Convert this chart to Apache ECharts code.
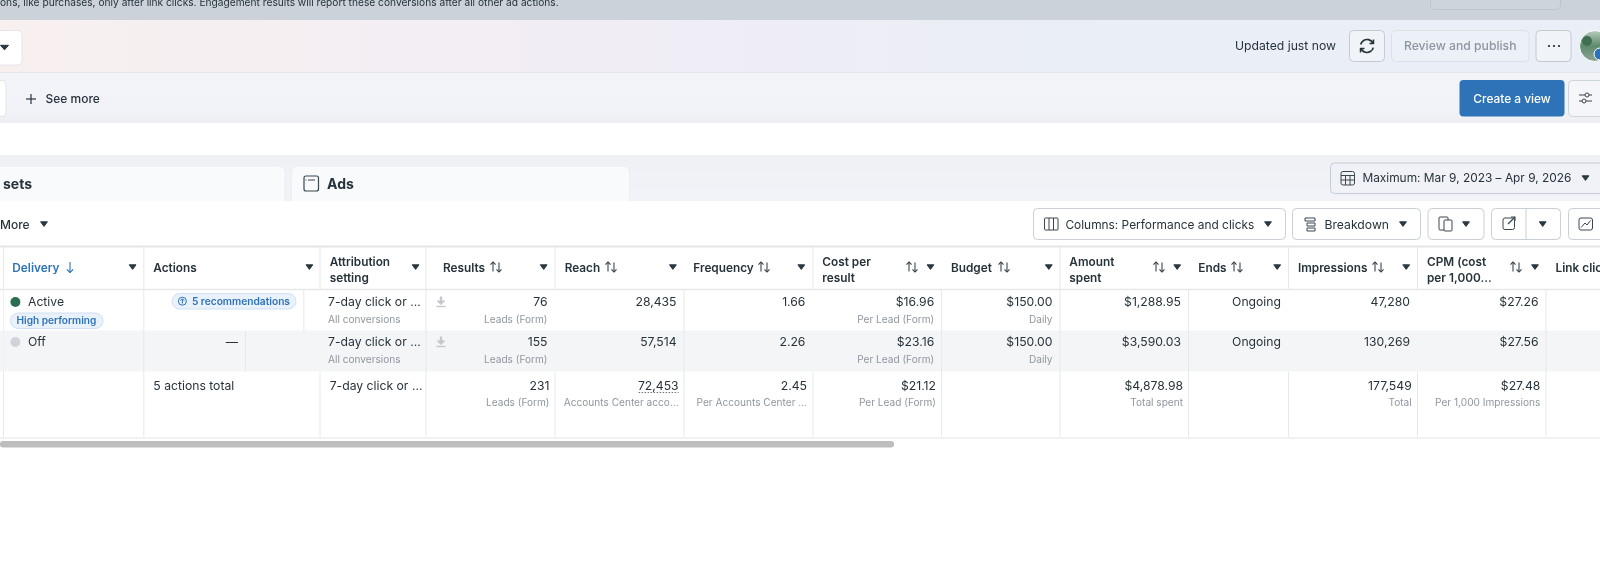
<!DOCTYPE html>
<html><head><meta charset="utf-8">
<style>html,body{margin:0;padding:0;background:#fff}#c{width:1600px;height:571px;filter:blur(.35px)}</style>
<script src="https://cdn.jsdelivr.net/npm/echarts@6/dist/echarts.min.js"></script>
</head><body><div id="c"></div>
<script>
// ---- data ----
const headers = [
  ['Delivery'], ['Actions'], ['Attribution','setting'], ['Results'], ['Reach'], ['Frequency'],
  ['Cost per','result'], ['Budget'], ['Amount','spent'], ['Ends'], ['Impressions'], ['CPM (cost','per 1,000...'], ['Link clic']
];
const attribution = ['7-day click or ...','7-day click or ...','7-day click or ...'];
const attributionSub = ['All conversions','All conversions',''];
const results = ['76','155','231'];
const resultsSub = ['Leads (Form)','Leads (Form)','Leads (Form)'];
const reach = ['28,435','57,514','72,453'];
const reachSub = ['','','Accounts Center acco...'];
const frequency = ['1.66','2.26','2.45'];
const frequencySub = ['','','Per Accounts Center ...'];
const costPerResult = ['$16.96','$23.16','$21.12'];
const costSub = ['Per Lead (Form)','Per Lead (Form)','Per Lead (Form)'];
const budget = ['$150.00','$150.00',''];
const budgetSub = ['Daily','Daily',''];
const amountSpent = ['$1,288.95','$3,590.03','$4,878.98'];
const amountSub = ['','','Total spent'];
const ends = ['Ongoing','Ongoing',''];
const impressions = ['47,280','130,269','177,549'];
const impressionsSub = ['','','Total'];
const cpm = ['$27.26','$27.56','$27.48'];
const cpmSub = ['','','Per 1,000 Impressions'];
const delivery = ['Active','Off',''];
const actionTexts = ['','—','5 actions total'];

// ---- layout (pixels) ----
const FONT = 'Inter, "Noto Sans", sans-serif';
const INK = '#27333b', SUB = '#8f979f', BLUE = '#2e73b8', LINE = '#e6e8ec', BTN = '#c9cfd6';
const valueCols = [
  {v:attribution,s:attributionSub,x:[328,328,329.7],a:'left'},
  {v:results,s:resultsSub,x:[547.5,547.5,549.5],a:'right'},
  {v:reach,s:reachSub,x:[676.5,676.5,678.6],a:'right'},
  {v:frequency,s:frequencySub,x:[805.4,805.4,807],a:'right'},
  {v:costPerResult,s:costSub,x:[934.2,934.2,936],a:'right'},
  {v:budget,s:budgetSub,x:[1052.5,1052.5,1052.5],a:'right'},
  {v:amountSpent,s:amountSub,x:[1181,1181,1183],a:'right'},
  {v:ends,s:null,x:[1281,1281,1281],a:'right'},
  {v:impressions,s:impressionsSub,x:[1410,1410,1411.7],a:'right'},
  {v:cpm,s:cpmSub,x:[1538.5,1538.5,1540.4],a:'right'}
];
const rowValY = [302.3,342.6,386], rowSubY = [319.7,360,403.3];
const headX = [12.3,153.3,329.7,443,564.7,693.3,822.3,951,1069.3,1198.3,1297.9,1427,1555.6];
const sortX = [70,null,null,496,611,764,912,1004,1159,1237,1378,1516,null];
const caretX = [132.6,309.4,415.6,543.7,672.9,801.3,930.5,1048.8,1177.2,1277.2,1406.2,1535,null];

// ---- helpers ----
const gfx = [];
const R = (x,y,w,h,fill,stroke,r,lw) => gfx.push({type:'rect',shape:{x,y,width:w,height:h,r:r||0},style:{fill:fill||'none',stroke:stroke||null,lineWidth:lw||1}});
const T = (x,y,text,o) => { o=o||{}; gfx.push({type:'text',x,y,style:{text,font:(o.w||400)+' '+(o.s||12.2)+'px '+FONT,fill:o.c||INK,align:o.a||'left',verticalAlign:'middle'}}); };
const L = (x1,y1,x2,y2,c,lw) => gfx.push({type:'line',shape:{x1,y1,x2,y2},style:{stroke:c||LINE,lineWidth:lw||1}});
const P = (pts,fill,stroke,lw) => gfx.push({type:fill?'polygon':'polyline',shape:{points:pts},style:{fill:fill||'none',stroke:stroke||null,lineWidth:lw||1,lineJoin:'round'}});
const Caret = (x,y,k) => { k=k||3.4; P([[x-k,y-2.2],[x+k,y-2.2],[x,y+2.4]],'#2b3840','#2b3840',1); };
const Grad = (dir,stops) => ({type:'linear',x:0,y:0,x2:dir==='h'?1:0,y2:dir==='h'?0:1,colorStops:stops});
const Sort = (x,y) => { const c='#3a464e';
  L(x-3,y-5,x-3,y+4.5,c,1.1); P([[x-5.5,y-2.4],[x-3,y-5],[x-0.5,y-2.4]],null,c,1.1);
  L(x+3,y-4.5,x+3,y+5,c,1.1); P([[x+0.5,y+2.4],[x+3,y+5],[x+5.5,y+2.4]],null,c,1.1);
};

// ---- page bands ----
R(0,0,1600,20,'#cbd2da');
R(0,20,1600,52,Grad('h',[{offset:0,color:'#f8f0ef'},{offset:0.4,color:'#f0edf5'},{offset:0.7,color:'#e9eef7'},{offset:1,color:'#e9eef7'}]));
L(0,72.5,1600,72.5,'#e2e5ea');
R(0,73,1600,50,Grad('v',[{offset:0,color:'#f2f4f8'},{offset:0.75,color:'#f2f3f8'},{offset:1,color:'#edeff3'}]));
R(0,155,1600,46,Grad('v',[{offset:0,color:'#eef0f3'},{offset:0.4,color:'#f1f2f6'},{offset:1,color:'#f2f3f8'}]));
T(0,3,'ons, like purchases, only after link clicks. Engagement results will report these conversions after all other ad actions.',{s:10.2,c:'#26323a'});
R(1430.5,-12,130,21.5,'#cdd4dc','#bcc4cc',4);

// top row
R(-20,30.5,42,34.5,'#fff','#e6e4e8',4); Caret(4.5,47.5,4);
T(1235,46,'Updated just now');
R(1349.5,30.5,35,31,'#f0f3f8','#c3cad2',4);
gfx.push({type:'arc',shape:{cx:1367,cy:46,r:6.5,startAngle:-2.9,endAngle:-0.35,clockwise:true},style:{fill:'none',stroke:INK,lineWidth:1.7}});
gfx.push({type:'arc',shape:{cx:1367,cy:46,r:6.5,startAngle:0.25,endAngle:2.8,clockwise:true},style:{fill:'none',stroke:INK,lineWidth:1.7}});
P([[1373.5,39.5],[1373.5,43.5],[1369.5,43.5]],null,INK,1.5);
P([[1360.5,52.5],[1360.5,48.5],[1364.5,48.5]],null,INK,1.5);
R(1391.5,30.5,137.5,31,'#ecf0f7','#dce1e8',4);
T(1460.2,46,'Review and publish',{w:500,c:'#8c96a1',a:'center'});
R(1536,30.5,35,31,'#f0f3f8','#c3cad2',4);
[1549,1554,1559].forEach(x=>gfx.push({type:'circle',shape:{cx:x,cy:46,r:1.1},style:{fill:'#1c2b33'}}));
gfx.push({type:'circle',shape:{cx:1595,cy:46,r:15.5},style:{fill:Grad('v',[{offset:0,color:'#b9cfc2'},{offset:0.5,color:'#5f8a6d'},{offset:1,color:'#8ea59a'}]),stroke:'#fff',lineWidth:1}});
gfx.push({type:'circle',shape:{cx:1587,cy:41,r:5},style:{fill:'#3f6f52'}});
gfx.push({type:'circle',shape:{cx:1600,cy:54,r:6},style:{fill:'#2e73b8',stroke:'#fff',lineWidth:1}});

// second row
R(-20,80.5,26,36,'#fff','#e4e6ea',4);
L(26,99,36,99,INK,1.2); L(31,94,31,104,INK,1.2);
T(45.5,99.3,'See more',{w:500,s:12});
R(1459.5,80,105,36.5,BLUE,null,4);
T(1512,99.2,'Create a view',{w:500,s:11.9,c:'#fff',a:'center'});
R(1568.5,80.5,60,36,'#f5f6f9','#cfd4da',4);
L(1579,95,1592,95,'#3a464e',1); L(1579,101,1592,101,'#3a464e',1);
gfx.push({type:'circle',shape:{cx:1587,cy:95,r:2},style:{fill:'#f5f6f9',stroke:'#3a464e',lineWidth:1}});
gfx.push({type:'circle',shape:{cx:1584,cy:101,r:2},style:{fill:'#f5f6f9',stroke:'#3a464e',lineWidth:1}});

// tabs
R(-20,166,305,45,'#f9fafc','#eceef2',6);
R(291.5,166,338,45,'#f9fafc','#eceef2',6);
T(3,184.8,'sets',{s:14,w:700});
R(304,176,14.5,15,'#f9fafc','#3a464e',2,1.2); L(308,180,315,180,'#3a464e',1); L(305.5,180,306.5,180,'#3a464e',1);
T(327,184.8,'Ads',{s:14,w:700});
R(1330.5,163,300,30.5,'#f1f2f7','#c5cbd3',4);
R(1341,171.5,13.5,13.5,'none','#3a464e',2); L(1341,175.5,1354.5,175.5,'#3a464e',1); L(1341,180,1354.5,180,'#3a464e',1); L(1345.5,175.5,1345.5,185,'#3a464e',1); L(1350,175.5,1350,185,'#3a464e',1);
T(1362.4,178.4,'Maximum: Mar 9, 2023 – Apr 9, 2026',{s:11.9});
Caret(1585.5,178);

// toolbar
R(0,201,1600,370,'#fff');
T(0,225.3,'More',{w:500,s:12}); Caret(44,224);
R(1033.5,208.5,252,31,'#fff',BTN,4);
R(1044.5,218,13.5,12,'none','#3a464e',1); L(1049,218,1049,230,'#3a464e',1); L(1053.5,218,1053.5,230,'#3a464e',1);
T(1065.4,225,'Columns: Performance and clicks',{s:11.9}); Caret(1268,224);
R(1292.5,208.5,128,31,'#fff',BTN,4);
R(1305,218,10,3,'none','#3a464e',0); R(1307,223,8,3,'none','#3a464e',0); R(1307,228,8,3,'none','#3a464e',0);
T(1324.5,225,'Breakdown'); Caret(1403,224);
R(1428,208.5,56,31,'#fff',BTN,4);
R(1439,217,9,13,'#fff','#3a464e',1); R(1444,220,8,11,'#fff','#3a464e',1); Caret(1466,224);
R(1491.5,208.5,69,31,'#fff',BTN,4); L(1526,208.5,1526,239.5,BTN);
R(1503,218,11.5,11.5,'none','#3a464e',2); L(1508,224,1515,217,'#3a464e',1.2); P([[1511,217],[1515,217],[1515,221]],null,'#3a464e',1.1); Caret(1542.7,224);
R(1568.5,208.5,60,31,'#fff',BTN,4);
R(1579,218,13.5,12,'none','#3a464e',2); P([[1581,227.5],[1585,223],[1587,225],[1590.5,220.5]],null,'#3a464e',1);

// table frame
L(0,246.5,1600,246.5,'#e4e6ea',2); L(0,289.5,1600,289.5,'#e6e8ec',1.5);
R(0,330.6,1600,41,'#f4f5f7');
L(0,438,1600,438,'#eceef1',1.6);
[3.5,143.8,320,426,555,813,1060,1288.5,1417.5].forEach(x=>L(x,247,x,289,LINE));
[3.5,143.8,320,426,555,684,813,941.6,1060,1188.5,1288.5,1417.5,1546].forEach(x=>L(x,372,x,437,LINE));
[143.8,426,684,941.6,1060,1188.5,1546].forEach(x=>L(x,289,x,372,LINE));
[3.5].forEach(x=>L(x,289,x,372,'#eef0f3'));
L(303.8,289,303.8,331,LINE); L(245.5,331,245.5,372,'#e6e8ec');
R(0,441,894,6.5,'#bdbdbd',null,3);

// table header arrows and carets
sortX.forEach(x=>{ if(x!==null && x!==70) Sort(x,267); });
L(70,262,70,272.5,BLUE,1.1); P([[66.8,269.3],[70,272.5],[73.2,269.3]],null,BLUE,1.1);
caretX.forEach(x=>{ if(x!==null) Caret(x,267); });

// status + pills
gfx.push({type:'circle',shape:{cx:15.4,cy:302,r:5},style:{fill:'#2a6e51'}});
gfx.push({type:'circle',shape:{cx:15.4,cy:342,r:5},style:{fill:'#cfd3da'}});
R(10.5,313,92.5,15.5,'#e9f1fb','#cfe0f4',7.7);
T(16.5,321,'High performing',{s:10.1,w:600,c:BLUE});
R(172,293.5,124,15.5,'#e9f1fb','#cfe0f4',7.7);
gfx.push({type:'circle',shape:{cx:182.4,cy:301.2,r:4},style:{fill:'none',stroke:BLUE,lineWidth:1}});
L(182.4,303.5,182.4,299,BLUE,1); P([[180.6,300.6],[182.4,298.8],[184.2,300.6]],null,BLUE,1);
T(191.9,301.7,'5 recommendations',{s:10.2,w:600,c:BLUE});
[301,341].forEach(y=>{ L(441,y-4.5,441,y+1,'#c4c8cd',2.4); P([[437.3,y],[444.7,y],[441,y+3.5]],'#c4c8cd','#c4c8cd',1); L(436.5,y+5.5,445.5,y+5.5,'#c4c8cd',1.4); });

// ---- cells, drawn by a custom series from the named arrays ----
const cells = [];
const VS = 12.2, SS = 10.1, HS = 11.8;
headers.forEach((h,i)=>h.forEach((t,j)=>cells.push({t,x:headX[i],y:h.length===1?268.3:(j===0?262.7:278.3),a:'left',s:HS,w:600,c:i===0?BLUE:INK})));
delivery.forEach((t,i)=>{ if(t) cells.push({t,x:28,y:rowValY[i],a:'left',s:VS,w:400,c:INK}); });
actionTexts.forEach((t,i)=>{ if(t) cells.push({t,x:i===1?238:153.3,y:rowValY[i],a:i===1?'right':'left',s:VS,w:400,c:INK}); });
valueCols.forEach(col=>{
  [0,1,2].forEach(r=>{
    if(col.v[r]) cells.push({t:col.v[r],x:col.x[r],y:rowValY[r],a:col.a,s:VS,w:400,c:INK});
    if(col.s && col.s[r]) cells.push({t:col.s[r],x:col.x[r],y:rowSubY[r],a:col.a,s:SS,w:400,c:SUB});
  });
});
const seriesData = cells.map((c,i)=>[c.x,c.y,i]);

const chart = echarts.init(document.getElementById('c'),null,{renderer:'canvas'});
chart.setOption({
  animation:false,
  backgroundColor:'#fff',
  grid:{left:0,right:0,top:0,bottom:0},
  xAxis:{type:'value',min:0,max:1600,show:false},
  yAxis:{type:'value',min:0,max:571,inverse:true,show:false},
  graphic:gfx.map(g=>Object.assign({silent:true},g)),
  series:[{
    type:'custom',coordinateSystem:'cartesian2d',clip:false,silent:true,
    data:seriesData,
    renderItem:(p,api)=>{
      const c = cells[api.value(2)], pt = api.coord([api.value(0),api.value(1)]);
      const kids = [{type:'text',x:pt[0],y:pt[1],style:{text:c.t,font:c.w+' '+c.s+'px '+FONT,fill:c.c,align:c.a,verticalAlign:'middle'}}];
      if(c.t==='72,453'){
        kids.push({type:'line',shape:{x1:pt[0]-40,y1:pt[1]+6.5,x2:pt[0],y2:pt[1]+6.5},style:{stroke:'#6d7780',lineWidth:1,lineDash:[1.5,1.5]}});
      }
      return {type:'group',children:kids};
    }
  }]
});
</script></body></html>
